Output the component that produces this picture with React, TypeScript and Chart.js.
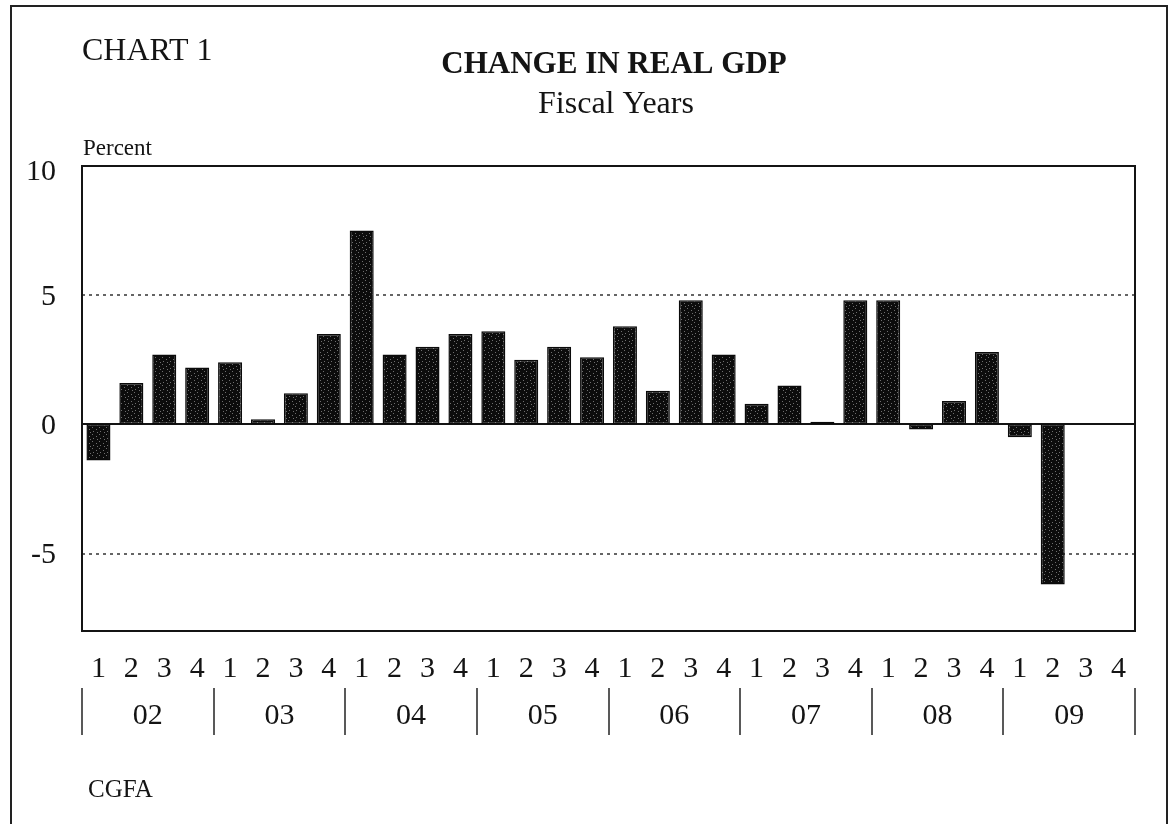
import React, { useEffect, useRef } from "react";
import { Chart, registerables } from "chart.js";

Chart.register(...registerables);

// ---- data ----
const YEARS = ["02", "03", "04", "05", "06", "07", "08", "09"];
const QUARTERS = ["1", "2", "3", "4"];
const GDP_CHANGE: (number | null)[] = [
  -1.4, 1.6, 2.7, 2.2,
  2.4, 0.2, 1.2, 3.5,
  7.5, 2.7, 3.0, 3.5,
  3.6, 2.5, 3.0, 2.6,
  3.8, 1.3, 4.8, 2.7,
  0.8, 1.5, 0.1, 4.8,
  4.8, -0.2, 0.9, 2.8,
  -0.5, -6.2, null, null,
];
const Y_TICKS = [10, 5, 0, -5];
const DOTTED_LINES = [5, -5];
const Y_MIN = -8;
const Y_MAX = 10;

const LABELS: string[] = [];
YEARS.forEach((yr) => QUARTERS.forEach((q) => LABELS.push(`${yr} Q${q}`)));

const SERIF = "'Liberation Serif', 'Times New Roman', serif";
const INK = "#141414";

function makePattern(): CanvasPattern | string {
  const c = document.createElement("canvas");
  c.width = 7;
  c.height = 7;
  const g = c.getContext("2d");
  if (!g) return "#111";
  g.fillStyle = "#0c0c0c";
  g.fillRect(0, 0, 7, 7);
  g.fillStyle = "#6e6e6e";
  const dots = [[1, 0], [5, 2], [2, 4], [6, 5]];
  dots.forEach(([px, py]) => g.fillRect(px, py, 1, 1));
  const p = g.createPattern(c, "repeat");
  return p || "#111";
}

const decorPlugin = {
  id: "decor",
  beforeDatasetsDraw(chart: any) {
    const { ctx, chartArea: a, scales } = chart;
    const y = scales.y;
    ctx.save();
    ctx.strokeStyle = "#333";
    ctx.lineWidth = 1.5;
    ctx.setLineDash([3, 4]);
    DOTTED_LINES.forEach((v) => {
      const py = Math.round(y.getPixelForValue(v));
      ctx.beginPath();
      ctx.moveTo(a.left, py);
      ctx.lineTo(a.right, py);
      ctx.stroke();
    });
    ctx.setLineDash([]);
    ctx.strokeStyle = INK;
    ctx.lineWidth = 2;
    const pz = Math.round(y.getPixelForValue(0));
    ctx.beginPath();
    ctx.moveTo(a.left, pz);
    ctx.lineTo(a.right, pz);
    ctx.stroke();
    ctx.restore();
  },
  afterDraw(chart: any) {
    const { ctx, chartArea: a, scales } = chart;
    const x = scales.x;
    const y = scales.y;
    ctx.save();

    // outer frame
    ctx.strokeStyle = "#222";
    ctx.lineWidth = 2;
    ctx.beginPath();
    ctx.moveTo(11, 830);
    ctx.lineTo(11, 6);
    ctx.lineTo(1167, 6);
    ctx.lineTo(1167, 830);
    ctx.stroke();

    // plot border
    ctx.strokeStyle = INK;
    ctx.lineWidth = 2;
    ctx.strokeRect(a.left, a.top, a.right - a.left, a.bottom - a.top);

    ctx.fillStyle = INK;

    // header texts
    ctx.textBaseline = "alphabetic";
    ctx.textAlign = "left";
    ctx.font = `32px ${SERIF}`;
    ctx.fillText("CHART 1", 82, 60);

    ctx.textAlign = "center";
    ctx.font = `bold 31px ${SERIF}`;
    ctx.fillText("CHANGE IN REAL GDP", 614, 73);
    ctx.font = `32px ${SERIF}`;
    ctx.fillText("Fiscal Years", 616, 113);

    ctx.textAlign = "left";
    ctx.font = `23px ${SERIF}`;
    ctx.fillText("Percent", 83, 155);

    // y tick labels
    ctx.textAlign = "right";
    ctx.textBaseline = "middle";
    ctx.font = `30px ${SERIF}`;
    Y_TICKS.forEach((v) => {
      const off = v === Y_MAX ? 6 : 2;
      ctx.fillText(String(v), 56, y.getPixelForValue(v) + off);
    });

    // quarter labels
    ctx.textAlign = "center";
    const n = LABELS.length;
    const slot = (a.right - a.left) / n;
    for (let i = 0; i < n; i++) {
      ctx.fillText(QUARTERS[i % 4], x.getPixelForValue(i), a.bottom + 38);
    }

    // year labels and separators
    ctx.strokeStyle = "#222";
    ctx.lineWidth = 1.5;
    for (let k = 0; k <= YEARS.length; k++) {
      const bx = k * 4 < n
        ? x.getPixelForValue(k * 4) - slot / 2
        : x.getPixelForValue(n - 1) + slot / 2;
      ctx.beginPath();
      ctx.moveTo(Math.round(bx), a.bottom + 57);
      ctx.lineTo(Math.round(bx), a.bottom + 104);
      ctx.stroke();
    }
    YEARS.forEach((yr, k) => {
      const cx = (x.getPixelForValue(k * 4) + x.getPixelForValue(k * 4 + 3)) / 2;
      ctx.fillText(yr, cx, a.bottom + 85);
    });

    // source
    ctx.textAlign = "left";
    ctx.font = `25px ${SERIF}`;
    ctx.fillText("CGFA", 88, 790);

    ctx.restore();
  },
};

export default function App() {
  const ref = useRef<HTMLCanvasElement | null>(null);

  useEffect(() => {
    document.body.style.margin = "0";
    const canvas = ref.current;
    if (!canvas) return;
    const chart = new Chart(canvas, {
      type: "bar",
      data: {
        labels: LABELS,
        datasets: [
          {
            label: "Change in Real GDP",
            data: GDP_CHANGE,
            backgroundColor: makePattern() as any,
            borderColor: "#0a0a0a",
            borderWidth: 1.5,
            borderSkipped: false,
            barPercentage: 0.73,
            categoryPercentage: 1,
          },
        ],
      },
      options: {
        animation: false,
        responsive: false,
        maintainAspectRatio: false,
        devicePixelRatio: 1,
        layout: { padding: { left: 82, right: 36, top: 166, bottom: 193 } },
        plugins: {
          legend: { display: false },
          tooltip: { enabled: false },
          title: { display: false },
        },
        scales: {
          x: { display: false, offset: true, grid: { display: false } },
          y: { display: false, min: Y_MIN, max: Y_MAX, grid: { display: false } },
        },
      },
      plugins: [decorPlugin],
    });
    return () => chart.destroy();
  }, []);

  return (
    <div style={{ width: 1171, height: 824, background: "#fff", position: "relative" }}>
      <canvas ref={ref} width={1171} height={824} style={{ display: "block" }} />
    </div>
  );
}
